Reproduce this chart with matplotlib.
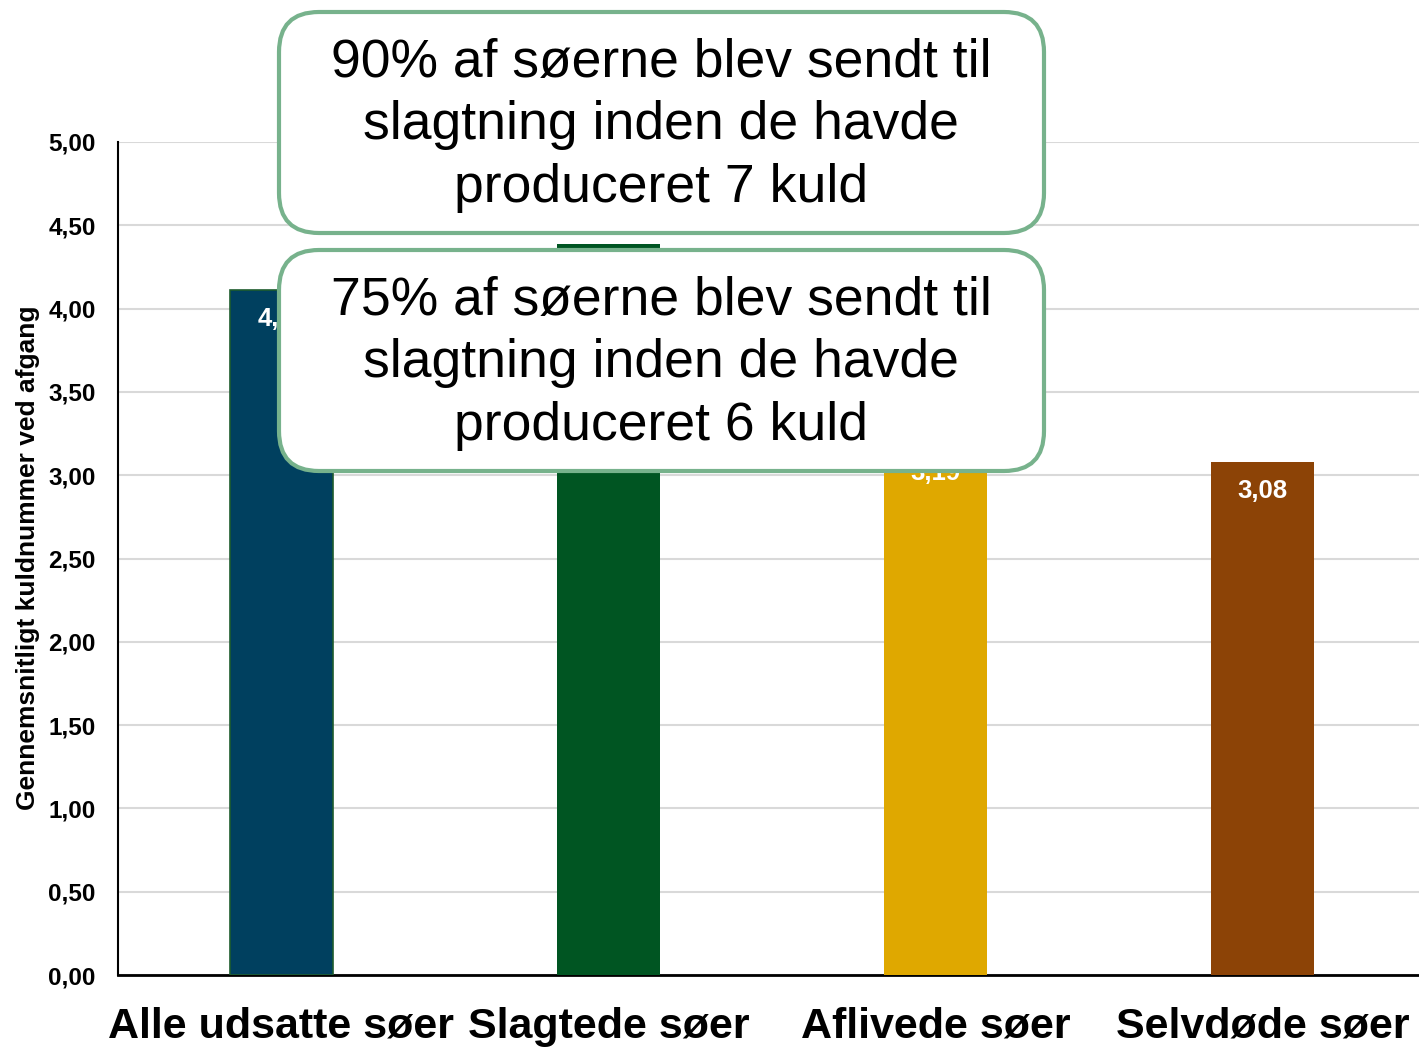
import matplotlib.pyplot as plt
from matplotlib.patches import FancyBboxPatch
from matplotlib.transforms import IdentityTransform

categories = ["Alle udsatte søer", "Slagtede søer", "Aflivede søer", "Selvdøde søer"]
values = [4.11, 4.39, 3.19, 3.08]
colors = ["#00405F", "#005522", "#DFA800", "#8C4306"]
yticks = [0, 0.5, 1, 1.5, 2, 2.5, 3, 3.5, 4, 4.5, 5]
box_texts = [
    "90% af søerne blev sendt til\nslagtning inden de havde\nproduceret 7 kuld",
    "75% af søerne blev sendt til\nslagtning inden de havde\nproduceret 6 kuld",
]

plt.rcParams['font.family'] = ['Liberation Sans', 'DejaVu Sans']

W, H = 1419, 1047
fig = plt.figure(figsize=(W / 100, H / 100), dpi=100)
ax = fig.add_axes([118 / W, 1 - 975 / H, 1308 / W, 833 / H])

x = range(len(categories))
bars = ax.bar(x, values, width=0.318, color=colors, zorder=3)
bars[0].set_edgecolor("#1E5C2E")
bars[0].set_linewidth(1.2)

for b, v in zip(bars, values):
    ax.annotate(f"{v:.2f}".replace(".", ","), (b.get_x() + b.get_width() / 2, v),
                xytext=(0, -29), textcoords="offset pixels", ha="center", va="center",
                color="white", fontsize=18.5, fontweight="bold", zorder=4)

ax.set_xlim(-0.5, 3.5)
ax.set_ylim(0, 5)
ax.set_yticks(yticks)
ax.set_yticklabels([f"{t:.2f}".replace(".", ",") for t in yticks], fontsize=17.5, fontweight="bold")
ax.set_xticks(list(x))
ax.set_xticklabels(categories, fontsize=31, fontweight="bold")
ax.tick_params(axis="x", length=0, pad=23)
ax.tick_params(axis="y", length=0, pad=16)
ax.grid(axis="y", color="#D9D9D9", linewidth=1.5, zorder=0)
ax.set_axisbelow(True)
for s in ["top", "right"]:
    ax.spines[s].set_visible(False)
ax.spines["left"].set_linewidth(1.5)
ax.spines["bottom"].set_linewidth(2)
fig.text(28 / W, 1 - 558 / H, "Gennemsnitligt kuldnummer ved afgang", rotation=90,
         ha="center", va="center", fontsize=19, fontweight="bold")

# callout boxes, pixel coords (top, bottom) from the top edge
for (top, bottom), txt in zip([(10, 235), (248, 473)], box_texts):
    box = FancyBboxPatch((279, H - bottom + 2), 765, bottom - top - 4,
                         boxstyle="round,pad=0,rounding_size=40",
                         transform=IdentityTransform(), facecolor="white",
                         edgecolor="#77B28C", linewidth=3)
    fig.add_artist(box)
    fig.text(661 / W, 1 - ((top + bottom) / 2 + 3) / H, txt, ha="center", va="center",
             fontsize=38.5, linespacing=1.31, zorder=5)

fig.savefig("out.png", dpi=100)
